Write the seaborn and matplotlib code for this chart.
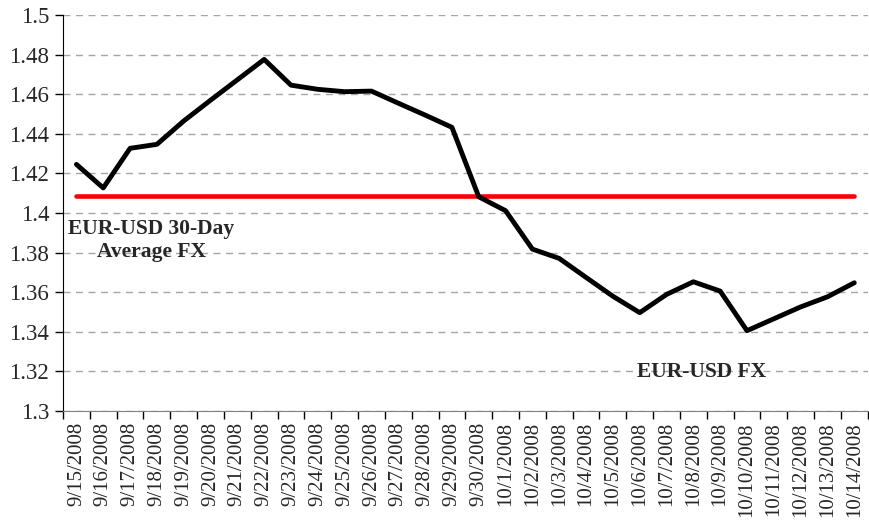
import numpy as np
import pandas as pd
import matplotlib
matplotlib.use("Agg")
import matplotlib.pyplot as plt
import seaborn as sns
from matplotlib.ticker import MultipleLocator, FixedLocator

dates = ["9/15/2008", "9/16/2008", "9/17/2008", "9/18/2008", "9/19/2008",
         "9/20/2008", "9/21/2008", "9/22/2008", "9/23/2008", "9/24/2008",
         "9/25/2008", "9/26/2008", "9/27/2008", "9/28/2008", "9/29/2008",
         "9/30/2008", "10/1/2008", "10/2/2008", "10/3/2008", "10/4/2008",
         "10/5/2008", "10/6/2008", "10/7/2008", "10/8/2008", "10/9/2008",
         "10/10/2008", "10/11/2008", "10/12/2008", "10/13/2008", "10/14/2008"]
eur_usd = [1.4246, 1.4127, 1.4327, 1.4347, 1.4465, 1.4570, 1.4673, 1.4776,
           1.4646, 1.4625, 1.4613, 1.4616, 1.4555, 1.4495, 1.4433, 1.4082,
           1.4012, 1.3818, 1.3771, 1.3675, 1.3580, 1.3497, 1.3589, 1.3653,
           1.3606, 1.3406, 1.3466, 1.3526, 1.3577, 1.3648]
avg_30d = 1.4085

df = pd.DataFrame({"pos": np.arange(len(dates)), "date": dates,
                   "fx": eur_usd, "avg": [avg_30d] * len(dates)})

sns.set_style("white")
plt.rcParams["font.family"] = ["Liberation Serif", "DejaVu Serif"]

fig = plt.figure(figsize=(8.69, 5.25), dpi=100)
ax = fig.add_axes([0.0725, 0.217, 0.926, 0.7543])

sns.lineplot(data=df, x="pos", y="avg", color="#ff0000", linewidth=3.3,
             solid_capstyle="round", ax=ax, zorder=3)
sns.lineplot(data=df, x="pos", y="fx", color="black", linewidth=3.5,
             ax=ax, zorder=4)

ax.set_xlim(-0.5, len(dates) - 0.5)
ax.set_ylim(1.3, 1.5)
ax.yaxis.set_major_locator(MultipleLocator(0.02))
ax.set_yticklabels([f"{v:g}" for v in np.round(ax.get_yticks(), 2)])
ax.yaxis.grid(True, color="#a6a6a6", linestyle=(0, (5, 4)), linewidth=1)

ax.set_xticks(df["pos"])
ax.set_xticklabels(dates, rotation=90)
ax.xaxis.set_minor_locator(FixedLocator(np.arange(-0.5, len(dates), 1)))
ax.tick_params(axis="x", which="major", length=0, pad=8, labelsize=15)
ax.tick_params(axis="x", which="minor", length=6, width=1, color="black",
               direction="out", bottom=True)
ax.tick_params(axis="y", length=6, width=1, color="black", direction="out",
               left=True, labelsize=16.5, pad=4)

for s in ["top", "right"]:
    ax.spines[s].set_visible(False)
ax.spines["left"].set_color("black")
ax.spines["bottom"].set_color("#808080")
ax.set_xlabel("")
ax.set_ylabel("")

ax.text(2.8, 1.3862, "EUR-USD 30-Day\nAverage FX", ha="center", va="center",
        fontsize=15.5, fontweight="bold", linespacing=1.25)
ax.text(23.3, 1.3197, "EUR-USD FX", ha="center", va="center",
        fontsize=15.5, fontweight="bold")

fig.savefig("out.png", dpi=100)
